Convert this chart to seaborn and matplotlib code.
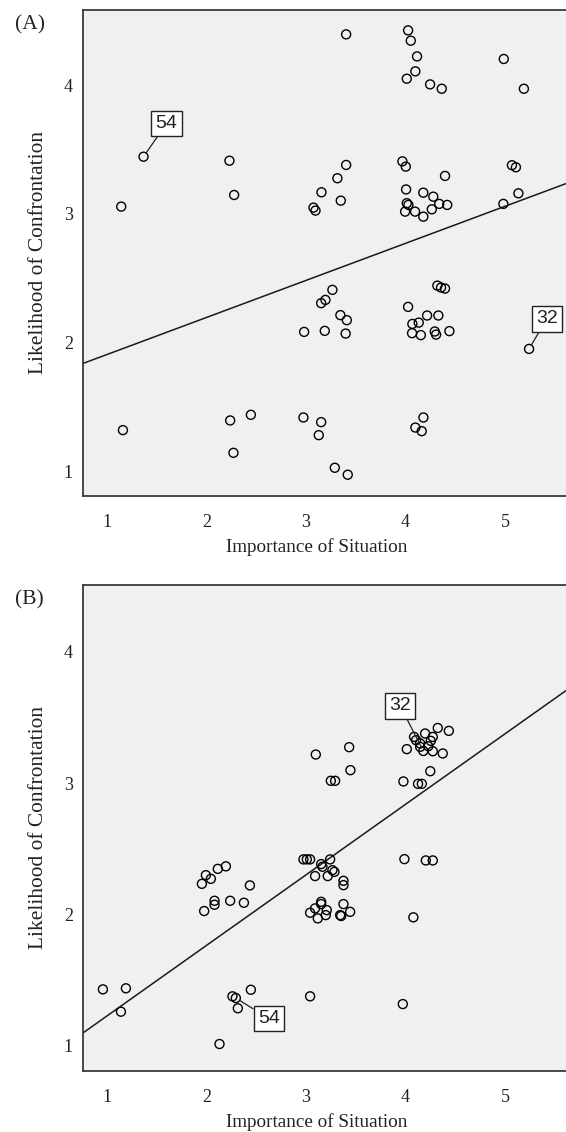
import matplotlib
matplotlib.use("Agg")
import matplotlib.pyplot as plt
import seaborn as sns
import numpy as np
import pandas as pd

# ---------------- data ----------------
a_x = [1.146, 1.37, 2.233, 2.28, 1.163, 2.24, 2.448, 2.273,
       3.405, 4.027, 4.054, 4.117, 4.10, 4.014, 4.248, 4.365, 4.988, 5.19,
       3.405, 3.317, 3.157, 3.351, 3.077, 3.097,
       3.97, 4.004, 4.398, 4.007, 4.18, 4.28, 4.014, 4.03, 4.34, 4.42, 3.997, 4.097, 4.265, 4.18,
       5.07, 5.11, 5.135, 4.984,
       4.321, 4.358, 4.398, 3.267, 3.197, 3.154, 3.347, 3.412, 2.983, 3.19, 3.40,
       4.027, 4.218, 4.331, 4.07, 4.134, 4.067, 4.155, 4.295, 4.308, 4.442, 5.242,
       2.976, 3.154, 3.13, 4.181, 4.10, 4.164, 3.291, 3.421]
a_y = [3.057, 3.444, 3.413, 3.147, 1.323, 1.398, 1.442, 1.147,
       4.393, 4.424, 4.344, 4.222, 4.106, 4.049, 4.005, 3.971, 4.202, 3.971,
       3.38, 3.277, 3.168, 3.103, 3.049, 3.026,
       3.408, 3.367, 3.295, 3.19, 3.165, 3.134, 3.083, 3.07, 3.078, 3.07, 3.018, 3.018, 3.036, 2.979,
       3.378, 3.362, 3.16, 3.078,
       2.444, 2.429, 2.421, 2.411, 2.333, 2.308, 2.215, 2.176, 2.085, 2.093, 2.072,
       2.279, 2.212, 2.212, 2.147, 2.157, 2.075, 2.06, 2.088, 2.064, 2.091, 1.953,
       1.421, 1.385, 1.284, 1.421, 1.343, 1.315, 1.031, 0.977]

b_x = [0.962, 1.193, 1.143, 1.996, 2.046, 1.956, 2.116, 2.197, 2.438, 2.083, 2.083, 2.24, 2.378, 1.979,
       2.263, 2.297, 2.448, 2.317, 2.133, 3.043, 3.974,
       2.976, 3.01, 3.043, 3.244, 3.154, 3.167, 3.267, 3.287, 3.093, 3.22, 3.378, 3.378,
       3.99, 4.205, 4.275,
       3.154, 3.154, 3.093, 3.043, 3.12, 3.21, 3.20, 3.378, 3.445, 3.345, 3.355, 4.08,
       3.10, 3.435, 3.448, 3.251, 3.294, 3.98, 4.127, 4.165, 4.25,
       4.325, 4.436, 4.087, 4.107, 4.198, 4.275, 4.255, 4.148, 4.014, 4.148, 4.18, 4.275, 4.375, 4.23]
b_y = [1.431, 1.439, 1.261, 2.30, 2.272, 2.234, 2.348, 2.367, 2.222, 2.105, 2.075, 2.105, 2.09, 2.027,
       1.378, 1.365, 1.428, 1.287, 1.015, 1.378, 1.319,
       2.42, 2.42, 2.42, 2.42, 2.384, 2.364, 2.338, 2.325, 2.293, 2.293, 2.257, 2.224,
       2.422, 2.412, 2.412,
       2.097, 2.08, 2.047, 2.014, 1.971, 2.034, 1.996, 2.08, 2.021, 1.996, 1.989, 1.979,
       3.218, 3.274, 3.099, 3.018, 3.018, 3.013, 2.995, 2.995, 3.091,
       3.42, 3.398, 3.352, 3.327, 3.378, 3.352, 3.322, 3.302, 3.259, 3.276, 3.245, 3.243, 3.226, 3.281]

# labelled cases: (label, point index, text position)
a_labels = [("54", 1, 1.60, 3.70), ("32", 63, 5.42, 2.186)]
b_labels = [("54", 15, 2.628, 1.209), ("32", 67, 3.947, 3.589)]

x_ticks = [1, 2, 3, 4, 5]
y_ticks = [1, 2, 3, 4]
x_label = "Importance of Situation"
y_label = "Likelihood of Confrontation"

# ---------------- style ----------------
sns.set_style("white")
plt.rcParams["font.family"] = ["Liberation Serif", "DejaVu Serif"]
plt.rcParams["font.size"] = 13

W, H = 566, 1132
fig = plt.figure(figsize=(W / 100, H / 100), dpi=100)

bg = "#EFF0F2"
spine_c = "#3a3a3a"
txt_c = "#222222"
XLIM = (0.759, 5.613)


def make_panel(top_px, bottom_px, xs, ys, labels, ylim, tag):
    left_px = 82.7
    ax = fig.add_axes([left_px / W, 1 - bottom_px / H, (W - left_px) / W,
                       (bottom_px - top_px) / H])
    ax.set_facecolor(bg)
    ax.set_xlim(*XLIM)
    ax.set_ylim(*ylim)
    df = pd.DataFrame({"x": xs, "y": ys})
    sns.regplot(data=df, x="x", y="y", ax=ax, ci=None, truncate=False,
                scatter_kws=dict(facecolors="none", edgecolors="black", s=42,
                                 linewidths=1.0, alpha=1, zorder=3, color="black"),
                line_kws=dict(color="#1a1a1a", lw=1.1, zorder=2))
    ax.set_xlim(*XLIM)
    ax.set_ylim(*ylim)
    ax.set_xticks(x_ticks)
    ax.set_yticks(y_ticks)
    ax.set_xticklabels([str(t) for t in x_ticks])
    ax.set_yticklabels([str(t) for t in y_ticks])
    ax.tick_params(direction="out", length=5, width=1.2, color=spine_c,
                   labelsize=13, labelcolor=txt_c)
    ax.tick_params(axis="x", pad=8)
    ax.tick_params(axis="y", pad=2)
    for s in ["left", "bottom", "top"]:
        ax.spines[s].set_color(spine_c)
        ax.spines[s].set_linewidth(1.3)
    ax.spines["right"].set_visible(False)
    ax.set_xlabel(x_label, fontsize=13.8, color=txt_c)
    ax.set_ylabel(y_label, fontsize=15.4, color=txt_c)
    ax.yaxis.set_label_coords(-0.072, 0.5)
    ax.xaxis.set_label_coords(0.484, -0.087)
    for lab, idx, tx, ty in labels:
        ax.annotate(lab, xy=(xs[idx], ys[idx]), xytext=(tx, ty), textcoords="data",
                    ha="center", va="center", fontsize=14,
                    family=["Liberation Sans", "DejaVu Sans"], color=txt_c,
                    bbox=dict(boxstyle="square,pad=0.22", fc="white", ec=txt_c, lw=1.0),
                    arrowprops=dict(arrowstyle="-", color=txt_c, lw=0.9,
                                    shrinkA=0, shrinkB=3.5), zorder=5)
    fig.text(15 / W, 1 - (top_px + 15) / H, tag, fontsize=15.5, va="center", ha="left",
             color=txt_c)
    return ax


make_panel(10, 496, a_x, a_y, a_labels, (0.812, 4.582), "(A)")
make_panel(585, 1070.7, b_x, b_y, b_labels, (0.812, 4.508), "(B)")

fig.savefig("out.png", dpi=100, facecolor="white")
